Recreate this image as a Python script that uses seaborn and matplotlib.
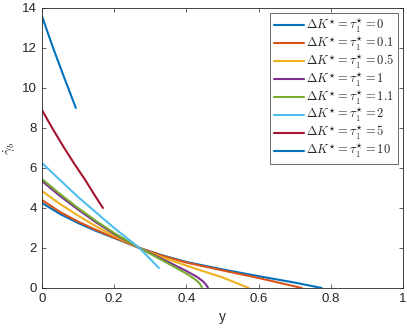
import pandas as pd
import numpy as np
import seaborn as sns
import matplotlib.pyplot as plt

# values
labels = ["0", "0.1", "0.5", "1", "1.1", "2", "5", "10"]

y_0 = [0.0, 0.05, 0.1, 0.15, 0.2, 0.27, 0.33, 0.4, 0.5, 0.6, 0.7, 0.775]
g_0 = [4.25, 3.7, 3.25, 2.85, 2.5, 2.0, 1.65, 1.3, 0.93, 0.59, 0.27, 0.0]

y_01 = [0.0, 0.05, 0.1, 0.15, 0.2, 0.27, 0.33, 0.4, 0.5, 0.6, 0.72]
g_01 = [4.4, 3.8, 3.32, 2.9, 2.52, 2.0, 1.63, 1.27, 0.88, 0.5, 0.0]

y_05 = [0.0, 0.05, 0.1, 0.15, 0.2, 0.27, 0.33, 0.4, 0.46, 0.5, 0.573]
g_05 = [4.85, 4.2, 3.62, 3.08, 2.6, 2.0, 1.55, 1.12, 0.76, 0.53, 0.0]

y_1 = [0.0, 0.05, 0.1, 0.15, 0.2, 0.27, 0.35, 0.4, 0.43, 0.445, 0.453, 0.458, 0.46]
g_1 = [5.35, 4.6, 3.92, 3.28, 2.7, 2.0, 1.3, 0.85, 0.55, 0.35, 0.2, 0.08, 0.0]

y_11 = [0.0, 0.05, 0.1, 0.15, 0.2, 0.27, 0.35, 0.4, 0.42, 0.43, 0.437, 0.441, 0.443]
g_11 = [5.45, 4.7, 4.0, 3.35, 2.75, 2.0, 1.22, 0.72, 0.48, 0.35, 0.22, 0.1, 0.04]

y_2 = [0.0, 0.1, 0.2, 0.27, 0.324]
g_2 = [6.25, 4.55, 3.0, 2.0, 1.0]

y_5 = [0.0, 0.03, 0.06, 0.09, 0.12, 0.145, 0.169]
g_5 = [8.9, 7.95, 7.05, 6.2, 5.4, 4.67, 4.0]

y_10 = [0.0, 0.03, 0.06, 0.094]
g_10 = [13.6, 12.05, 10.6, 9.0]

ys = [y_0, y_01, y_05, y_1, y_11, y_2, y_5, y_10]
gs = [g_0, g_01, g_05, g_1, g_11, g_2, g_5, g_10]

# matlab default line colours
colors = ["#0072BD", "#D95319", "#EDB120", "#7E2F8E",
          "#77AC30", "#4DBEEE", "#A2142F", "#0072BD"]

frames = []
for lab, yy, gg in zip(labels, ys, gs):
    name = r"$\Delta K^{\star} = \tau_1^{\star} = " + lab + "$"
    frames.append(pd.DataFrame({"y": yy, "g": gg, "case": name}))
df = pd.concat(frames, ignore_index=True)
names = list(df["case"].unique())
palette = dict(zip(names, colors))

sns.set_style("ticks")
plt.rcParams["font.family"] = ["Liberation Sans", "DejaVu Sans"]
plt.rcParams["mathtext.fontset"] = "cm"

fig, ax = plt.subplots(figsize=(4.07, 3.31), dpi=100)
fig.subplots_adjust(left=0.103, right=0.99, top=0.976, bottom=0.13)

sns.lineplot(data=df, x="y", y="g", hue="case", palette=palette, sort=False,
             estimator=None, linewidth=1.5, ax=ax)

ax.set_xlim(0, 1)
ax.set_ylim(0, 14)
ax.set_xticks([0, 0.2, 0.4, 0.6, 0.8, 1])
ax.set_xticklabels(["0", "0.2", "0.4", "0.6", "0.8", "1"])
ax.set_yticks(range(0, 15, 2))
ax.tick_params(direction="in", top=True, right=True, labelsize=9.5,
               length=3, width=0.5, colors="0.15")
for s in ax.spines.values():
    s.set_linewidth(0.6)
    s.set_color("0.15")
ax.set_xlabel("y", fontsize=10, color="0.15")
ax.set_ylabel(r"$\dot{\gamma}_b$", fontsize=10, color="0.15")

leg = ax.legend(loc="upper right", fontsize=9, frameon=True, fancybox=False,
                handlelength=2.4, handletextpad=0.15, borderpad=0.3,
                labelspacing=-0.02, borderaxespad=0.4)
leg.get_frame().set_edgecolor("0.15")
leg.get_frame().set_linewidth(0.6)

fig.savefig("out.png", dpi=100)
